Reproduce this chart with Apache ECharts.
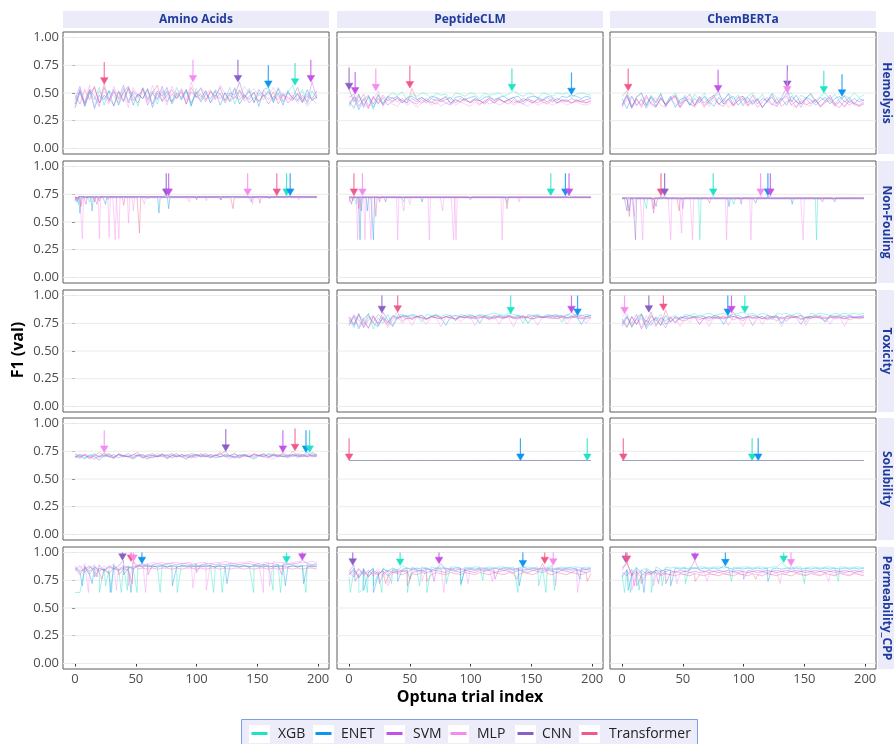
<!DOCTYPE html>
<html><head><meta charset="utf-8">
<script src="https://cdn.jsdelivr.net/npm/echarts@6/dist/echarts.min.js"></script>
<style>html,body{margin:0;padding:0;background:#fff}#c{width:894px;height:744px}</style>
</head><body><div id="c"></div><script>
const MODELS=['XGB','ENET','SVM','MLP','CNN','Transformer'];
const COLORS=['#20e3c6','#0d95f0','#c452ea','#f48cf0','#8b5fc7','#f0598b'];
const DATASETS=['Amino Acids','PeptideCLM','ChemBERTa'];
const TASKS=['Hemolysis','Non-Fouling','Toxicity','Solubility','Permeability_CPP'];
const Y_TICKS=[0,0.25,0.5,0.75,1];
const Y_TICK_LABELS=['0.00','0.25','0.50','0.75','1.00'];
const X_TICKS=[0,50,100,150,200];
const X_TICK_LABELS=['0','50','100','150','200'];
const N_TRIALS=200;

// ---- F1 values (x100), evenly spaced samples over trials 0..199 ----
const HEM_AA={
XGB:[40,53,38,51,44,55,39,52,47,41,54,43,50,38,55,45,52,40,53,47,42,55,44,51,39,54,46,52,41,53,48,43,55,40,52,46,54,42,50,44,53,41,55,47,51,57,43,53,40,52,45],
ENET:[37,50,41,53,36,48,44,52,38,51,42,54,39,49,45,53,37,50,43,52,40,48,44,53,38,51,42,49,45,52,39,50,43,54,40,48,44,51,38,53,55,42,50,39,52,44,49,41,53,43,48],
SVM:[44,56,40,53,47,38,55,42,51,45,57,41,52,46,54,39,50,44,56,42,49,45,53,40,51,47,44,52,41,48,45,50,42,47,44,49,41,46,43,48,40,47,44,49,41,46,43,48,42,60,45],
MLP:[36,54,42,57,38,52,46,40,56,44,50,37,55,47,53,42,57,45,51,39,56,48,54,43,60,46,55,49,53,45,57,50,48,55,46,56,50,54,47,52,48,55,46,50,44,48,41,46,38,44,40],
CNN:[40,52,38,50,55,41,48,44,53,39,51,56,43,49,45,54,40,52,47,55,42,50,46,53,41,49,54,44,51,47,55,43,50,48,60,45,52,41,53,47,51,44,54,42,50,46,55,43,49,45,52],
Transformer:[48,40,53,44,56,41,58,45,39,52,43,55,47,41,54,44,50,57,42,48,53,45,51,40,55,46,49,42,52,44,50,41,48,45,53,43,47,50,42,49,44,51,40,48,46,43,50,42,47,44,46]};
const HEM_PC={
XGB:[42,36,48,39,46,35,49,41,47,50,48,51,43,49,47,50,49,45,50,48,49,44,50,49,47,50,49,45,50,48,49,50,47,49,52,49,47,50,49,45,50,49,47,50,49,50,46,49,50,49,48],
ENET:[38,46,35,44,48,37,45,40,47,45,47,41,46,47,44,46,43,47,46,44,47,40,46,47,44,46,47,43,46,47,44,46,47,44,46,47,42,46,47,46,44,47,46,43,47,46,48,47,45,47,46],
SVM:[46,49,38,45,36,47,40,46,39,43,45,41,45,42,40,44,41,45,43,44,41,39,44,42,45,41,44,43,40,44,41,45,42,44,41,43,40,44,43,41,44,42,45,41,44,43,41,44,42,41,43],
MLP:[43,37,47,40,36,45,52,38,44,40,38,44,39,42,37,41,43,39,42,38,41,43,39,42,40,38,42,39,43,40,42,39,41,43,39,42,40,38,42,39,41,42,39,41,42,39,41,42,40,39,41],
CNN:[53,42,49,37,47,40,48,39,46,42,46,43,41,45,42,46,43,41,45,42,44,46,41,45,43,42,45,43,41,46,43,45,42,44,46,42,45,43,41,45,43,46,42,45,43,42,45,43,42,44,45],
Transformer:[40,47,42,49,38,46,41,48,43,46,42,45,41,54,44,41,45,42,40,44,46,41,44,42,45,41,44,40,43,45,41,44,42,40,44,41,43,45,41,44,42,40,44,41,43,44,41,43,44,41,43]};
const HEM_CB={
XGB:[40,49,37,47,50,39,48,42,50,38,46,50,41,48,39,49,44,50,40,47,49,42,50,44,48,39,47,50,43,49,41,50,46,44,49,50,42,48,45,50,43,47,50,44,49,42,48,45,50,46,48],
ENET:[45,36,47,39,44,37,46,38,45,40,47,37,44,46,39,45,41,47,42,38,46,40,45,47,39,44,46,40,45,37,43,46,40,45,39,47,42,40,46,44,39,43,46,40,45,47,42,46,40,45,43],
SVM:[38,47,36,44,39,48,40,37,46,39,43,47,37,44,40,38,46,39,43,48,51,40,45,38,43,47,39,44,37,42,46,40,38,44,47,39,43,37,45,40,44,38,43,46,39,42,38,44,40,39,42],
MLP:[37,44,47,38,45,36,42,46,39,37,45,40,38,47,41,37,43,46,38,44,39,45,37,42,46,38,44,39,45,37,42,47,38,43,50,39,37,45,40,38,44,37,41,45,38,42,37,43,39,38,41],
CNN:[39,48,37,46,50,39,47,41,49,38,45,48,40,44,49,39,47,41,45,48,40,44,49,39,46,47,41,48,40,45,43,49,41,46,55,42,48,40,45,49,41,46,43,48,40,45,47,41,45,42,44],
Transformer:[47,52,38,45,37,46,41,38,45,40,44,47,37,43,45,39,44,37,43,46,40,38,44,39,43,45,38,42,44,37,43,39,45,38,42,44,37,43,39,42,44,38,42,43,39,37,43,39,42,38,40]};

// Non-Fouling: nearly flat level with listed single-trial deviations [trial, F1x100]
const NF_AA_LEVEL={XGB:72.5,ENET:72,SVM:73,MLP:72.5,CNN:73,Transformer:72};
const NF_AA_PTS={
XGB:[[0,70],[3,66],[12,68],[27,70],[60,71],[174,74]],
ENET:[[0,69],[4,58],[14,60],[25,66],[69,58],[77,62],[120,70],[177,74]],
SVM:[[2,68],[9,66],[20,69],[77,74],[120,70],[145,68]],
MLP:[[1,68],[6,35],[20,35],[28,36],[33,34],[36,35],[44,49],[48,60],[57,66],[94,68],[108,69],[142,74],[146,66],[184,70]],
CNN:[[2,70],[16,68],[75,74],[100,70],[160,71]],
Transformer:[[5,64],[18,66],[40,65],[53,40],[130,62],[152,67],[166,74]]};
const NF_PC_LEVEL={XGB:72.5,ENET:72,SVM:73,MLP:72.5,CNN:72,Transformer:72};
const NF_PC_PTS={
XGB:[[6,66],[45,68],[130,67],[166,74]],
ENET:[[9,34],[15,60],[20,34],[60,68],[178,74]],
SVM:[[3,69],[25,68],[100,70],[181,74]],
MLP:[[7,34],[11,74],[13,34],[18,34],[40,34],[45,60],[50,66],[66,34],[77,60],[86,34],[88,34],[126,34],[140,68]],
CNN:[[2,66],[10,60],[30,68]],
Transformer:[[0,68],[4,74],[8,62],[22,55],[130,62]]};
const NF_CB_LEVEL={XGB:71.5,ENET:71,SVM:72,MLP:71.5,CNN:71,Transformer:71.5};
const NF_CB_PTS={
XGB:[[20,62],[64,34],[75,74],[92,66],[160,34]],
ENET:[[6,60],[88,64],[120,74],[140,66]],
SVM:[[26,58],[50,62],[98,66],[122,74],[175,68]],
MLP:[[10,55],[17,34],[40,34],[49,40],[58,34],[86,34],[106,34],[114,74],[149,34]],
CNN:[[4,60],[11,34],[28,64],[35,74],[110,67]],
Transformer:[[6,55],[26,62],[32,74],[47,60],[72,67],[165,68]]};

const TOX_PC={
XGB:[78,71,82,74,84,70,80,75,83,73,82,83,81,83,82,76,83,82,83,81,83,82,77,83,82,83,81,83,82,83,84,83,82,84,83,82,75,83,82,83,81,83,82,83,76,83,82,83,82,83,82],
ENET:[73,81,70,79,83,75,72,81,76,82,80,82,81,82,81,82,79,81,82,80,73,81,82,81,80,82,81,75,82,81,80,82,81,82,80,81,82,75,81,82,80,81,82,81,82,80,81,82,74,81,82],
SVM:[81,74,84,71,78,82,73,80,75,81,79,81,82,78,81,82,79,81,82,80,81,82,78,81,82,80,81,82,81,78,82,81,80,82,81,82,80,81,82,81,80,82,81,82,81,82,85,81,82,81,82],
MLP:[76,83,72,80,70,81,74,79,71,78,81,75,80,73,81,79,74,81,80,72,81,79,82,76,80,81,73,80,81,79,82,74,81,80,72,81,79,82,80,73,81,80,82,79,81,74,80,82,81,75,80],
CNN:[80,73,83,77,71,81,75,85,78,72,80,81,79,80,81,80,79,81,80,79,81,80,79,81,80,81,79,80,81,80,79,81,80,81,79,80,81,80,79,81,80,81,80,79,81,80,81,80,79,81,80],
Transformer:[74,82,78,72,81,76,83,79,73,80,85,77,80,79,81,80,78,81,80,79,81,80,79,80,81,79,80,81,80,79,81,80,79,81,80,79,81,80,79,80,81,80,79,81,80,79,80,81,80,79,80]};
const TOX_CB={
XGB:[76,82,71,80,84,73,81,77,83,74,80,82,78,83,82,84,80,83,84,82,83,84,81,83,84,85,83,84,82,84,83,78,84,83,84,82,84,83,76,84,83,84,83,82,84,83,84,83,84,83,84],
ENET:[79,72,81,74,83,70,77,80,73,82,76,81,79,81,82,80,82,81,79,82,81,74,82,81,82,80,81,82,81,79,82,81,82,75,81,82,81,82,80,81,82,81,76,82,81,82,81,82,80,81,82],
SVM:[72,80,75,83,70,78,73,81,77,71,80,75,81,79,80,81,74,80,81,79,80,81,80,85,79,80,81,73,80,81,79,80,81,80,77,81,80,74,81,80,81,79,80,81,80,81,79,80,81,80,81],
MLP:[81,84,73,79,71,82,76,72,80,74,77,81,72,80,76,81,74,80,72,81,79,82,73,81,80,72,82,80,81,74,82,80,81,72,82,81,80,82,73,81,80,82,81,74,82,81,72,82,81,80,81],
CNN:[74,81,72,79,83,76,85,73,80,77,81,76,80,81,79,81,80,79,81,80,81,79,80,81,80,79,81,80,81,79,80,81,80,79,81,80,81,79,80,81,80,81,79,80,81,80,79,81,80,81,80],
Transformer:[77,71,81,74,80,72,82,78,73,87,76,80,78,77,80,81,78,80,77,81,79,80,81,78,80,77,81,79,80,81,78,80,77,81,79,80,81,78,80,79,81,80,77,81,79,80,81,78,80,79,80]};

const SOL_AA={
XGB:[70,72,69,71,73,70,72,71,69,72,71,73,70,72,71,70,72,71,73,70,71,72,70,71,73,72,70,71,72,71,70,72,71,73,70,72,71,70,72,71,73,72,71,70,72,71,73,72,71,74,72],
ENET:[69,71,68,72,70,67,71,70,72,69,71,70,68,71,72,70,69,71,70,72,69,71,70,68,71,72,70,71,69,72,70,71,70,69,71,72,70,68,71,70,72,71,70,71,69,72,70,71,74,70,71],
SVM:[71,69,72,70,68,71,73,70,69,72,70,71,69,72,70,68,71,70,72,69,71,70,72,70,69,71,72,70,71,69,70,72,71,70,69,71,70,72,71,70,69,72,70,74,71,70,72,71,70,71,70],
MLP:[72,68,73,70,71,69,74,71,68,72,70,73,69,71,72,68,70,73,71,69,72,70,71,68,73,71,70,72,69,71,73,70,68,72,71,70,73,69,71,72,70,68,71,73,70,72,69,71,70,72,71],
CNN:[70,72,71,69,72,70,71,73,70,72,71,70,72,71,69,72,71,70,72,71,73,70,72,71,70,72,71,73,70,71,72,75,71,70,72,71,70,72,71,73,70,71,72,70,71,72,71,70,72,71,72],
Transformer:[73,70,72,68,71,74,70,72,69,73,71,70,72,74,69,71,73,70,72,68,71,73,70,72,71,69,73,70,72,71,74,70,71,73,69,72,70,73,71,72,70,73,71,72,70,75,71,72,70,73,71]};
const SOL_PC_LEVEL={XGB:66.7,ENET:66.7,Transformer:66.7};
const SOL_CB_LEVEL={XGB:66.7,ENET:66.7,Transformer:66.7};

const PERM_AA={
XGB:[64,64,86,80,88,83,86,84,89,85,87,88,86,88,87,89,88,87,88,89,88,88,89,88,88,89,88,89,88,88,89,88,89,88,89,88,88,89,88,89,88,88,89,88,90,89,88,88,89,88,89],
ENET:[86,82,88,80,87,84,85,82,88,84,86,87,85,88,90,87,88,87,88,87,88,87,88,87,88,87,88,87,88,87,88,87,88,88,87,88,87,88,87,88,87,88,87,88,87,88,87,88,87,88,87],
SVM:[84,88,82,87,85,89,83,88,86,84,88,87,85,89,88,90,89,90,89,90,90,89,90,90,89,90,89,90,90,89,90,89,90,90,89,90,90,89,90,89,90,90,89,90,89,90,90,93,90,89,90],
MLP:[88,84,90,86,89,83,88,85,90,86,87,84,92,88,90,89,91,90,91,90,91,91,90,91,91,90,91,91,90,91,91,92,91,90,91,91,92,91,90,91,91,92,91,91,90,91,92,91,91,92,91],
CNN:[87,83,85,88,82,86,84,87,85,88,93,86,87,88,87,88,87,88,88,87,88,87,88,88,87,88,87,88,88,87,88,87,88,88,87,88,87,88,88,87,88,87,88,88,87,88,87,88,88,87,88],
Transformer:[85,80,87,83,86,82,84,81,86,83,85,84,92,85,86,85,86,85,86,86,85,86,85,86,86,85,86,85,86,86,85,86,85,86,86,85,86,85,86,86,85,86,85,86,86,85,86,85,86,86,85]};
const PERM_AA_DIPS={
XGB:[[20,64],[25,70],[30,64],[38,64],[43,66],[51,64],[70,64],[84,64],[114,64],[121,64],[147,64],[163,66],[169,64],[190,64]],
ENET:[[6,70],[14,72],[29,64],[46,64],[80,70],[125,72],[173,70],[188,72]],
SVM:[[18,78],[60,80],[100,82],[170,80]],
MLP:[[11,64],[34,66],[44,70],[58,64],[97,68],[108,66],[155,64],[160,70]],
CNN:[[16,78],[40,80]],
Transformer:[[22,76],[36,80],[47,72]]};
const PERM_PC={
XGB:[78,84,80,86,82,85,81,86,83,85,84,88,86,87,85,87,86,87,86,87,86,87,87,86,87,86,87,87,86,87,86,87,87,86,87,86,87,87,86,87,86,87,87,86,87,86,87,87,86,87,86],
ENET:[80,86,77,84,82,86,79,85,83,86,84,85,86,85,86,85,86,84,86,85,86,85,86,86,85,86,85,86,86,85,86,85,86,86,85,86,87,85,86,85,86,86,85,86,85,86,86,85,86,85,86],
SVM:[82,78,85,80,84,79,83,81,84,82,83,84,82,85,84,83,85,84,85,90,84,85,84,85,84,85,84,85,84,85,84,85,84,85,84,85,84,85,84,85,84,85,84,85,84,85,84,85,84,85,84],
MLP:[84,80,86,79,83,81,85,78,84,82,85,83,86,84,85,83,86,85,84,86,85,86,84,85,86,85,84,86,85,84,86,85,86,84,85,86,85,84,86,85,86,84,89,85,86,84,85,86,85,84,85],
CNN:[83,89,80,85,78,84,81,83,79,84,82,83,84,82,83,84,82,83,84,83,82,84,83,82,84,83,82,84,83,84,82,83,84,83,82,84,83,82,84,83,82,84,83,82,84,83,82,84,83,82,83],
Transformer:[80,84,78,83,79,82,80,84,78,82,81,80,82,81,80,82,81,80,82,81,80,82,81,80,82,81,80,82,81,80,82,81,80,82,81,80,82,81,80,82,90,81,80,82,81,80,82,81,80,82,81]};
const PERM_PC_DIPS={
XGB:[[1,64],[8,64],[11,66],[15,64],[20,70],[27,64],[35,72],[48,64],[58,70],[64,64],[80,72],[92,70],[110,75],[139,64],[156,70],[162,64],[169,66]],
ENET:[[12,66],[20,64],[40,74],[92,72],[140,70],[190,76]],
SVM:[[25,72],[70,74],[120,76]],
MLP:[[32,70],[60,74],[78,64],[98,72],[118,74],[170,70],[188,64]],
CNN:[[5,74],[50,76]],
Transformer:[[30,72],[48,70],[64,74],[138,76],[196,74]]};
const PERM_CB={
XGB:[80,85,82,87,84,86,83,87,85,87,86,87,86,87,87,86,87,87,86,87,87,86,87,87,86,87,87,86,87,87,86,87,87,91,87,86,87,87,86,87,87,86,87,87,86,87,87,86,87,87,86],
ENET:[78,84,80,86,82,85,81,84,83,85,84,86,85,86,85,86,85,86,85,86,85,88,86,85,86,85,86,85,86,85,86,85,86,85,86,85,86,85,86,85,86,85,86,85,86,85,86,85,86,85,86],
SVM:[82,79,85,80,84,81,83,82,84,83,84,82,84,83,84,93,84,83,84,83,84,83,84,83,84,83,84,83,84,83,84,83,84,83,84,83,84,83,84,83,84,83,84,83,84,83,84,83,84,83,84],
MLP:[80,84,78,83,81,79,83,80,82,81,80,82,81,80,82,81,80,82,81,80,82,81,80,82,81,80,82,81,80,82,81,80,82,81,80,88,82,81,80,82,81,80,82,81,80,82,81,80,82,81,80],
CNN:[86,91,80,84,79,83,81,84,80,83,82,83,82,83,82,83,82,83,82,83,82,83,82,83,82,83,82,83,82,83,82,83,82,83,82,83,82,83,82,83,82,83,82,83,82,83,82,83,82,83,82],
Transformer:[84,91,79,82,78,81,80,82,79,81,80,79,81,80,79,81,80,79,81,80,79,81,80,79,81,80,79,81,80,79,81,80,79,81,80,79,81,80,79,81,80,79,81,80,79,81,80,79,81,80,79]};
const PERM_CB_DIPS={
XGB:[[2,64],[7,64],[14,66],[24,64],[33,70],[52,72],[90,74],[150,72],[178,74]],
ENET:[[5,66],[18,64],[40,70],[120,74]],
SVM:[[10,70],[30,72],[100,76]],
MLP:[[8,66],[26,70],[45,72],[70,74],[130,72],[170,74]],
CNN:[[12,70],[36,72]],
Transformer:[[16,72],[60,74],[110,76]]};

// ---- best-trial arrows: [model, trial, best F1] ----
const ARR_HEM_AA=[['Transformer',24,0.58],['MLP',97,0.60],['CNN',134,0.60],['ENET',159,0.55],['XGB',181,0.57],['SVM',194,0.60]];
const ARR_HEM_PC=[['CNN',0,0.53],['SVM',5,0.49],['MLP',22,0.52],['Transformer',50,0.545],['XGB',134,0.52],['ENET',183,0.485]];
const ARR_HEM_CB=[['Transformer',5,0.52],['SVM',79,0.51],['CNN',136,0.55],['MLP',136,0.50],['XGB',166,0.50],['ENET',181,0.47]];
const ARR_NF_AA=[['CNN',75,0.74],['SVM',77,0.74],['MLP',142,0.74],['Transformer',166,0.74],['XGB',174,0.74],['ENET',177,0.74]];
const ARR_NF_PC=[['Transformer',4,0.74],['MLP',11,0.74],['XGB',166,0.74],['ENET',178,0.74],['SVM',181,0.74]];
const ARR_NF_CB=[['Transformer',32,0.74],['CNN',35,0.74],['XGB',75,0.74],['MLP',114,0.74],['ENET',120,0.74],['SVM',122,0.74]];
const ARR_TOX_PC=[['CNN',27,0.845],['Transformer',40,0.85],['XGB',133,0.835],['SVM',183,0.845],['ENET',188,0.82]];
const ARR_TOX_CB=[['MLP',2,0.835],['CNN',22,0.85],['Transformer',34,0.865],['ENET',87,0.82],['SVM',90,0.845],['XGB',101,0.845]];
const ARR_SOL_AA=[['MLP',24,0.74],['CNN',124,0.75],['SVM',171,0.74],['Transformer',181,0.755],['ENET',190,0.74],['XGB',193,0.74]];
const ARR_SOL_PC=[['Transformer',0,0.667],['ENET',141,0.667],['XGB',196,0.667]];
const ARR_SOL_CB=[['Transformer',1,0.667],['XGB',107,0.667],['ENET',112,0.667]];
const ARR_PERM_AA=[['CNN',39,0.93],['Transformer',46,0.92],['MLP',48,0.92],['ENET',55,0.90],['XGB',174,0.905],['SVM',187,0.93]];
const ARR_PERM_PC=[['CNN',3,0.886],['XGB',42,0.883],['SVM',74,0.90],['ENET',143,0.87],['Transformer',161,0.90],['MLP',168,0.886]];
const ARR_PERM_CB=[['CNN',3,0.91],['Transformer',4,0.91],['SVM',60,0.93],['ENET',85,0.88],['XGB',133,0.91],['MLP',139,0.88]];

const PANELS=[
 {r:0,c:0,samples:HEM_AA,arrows:ARR_HEM_AA},
 {r:0,c:1,samples:HEM_PC,arrows:ARR_HEM_PC},
 {r:0,c:2,samples:HEM_CB,arrows:ARR_HEM_CB},
 {r:1,c:0,level:NF_AA_LEVEL,pts:NF_AA_PTS,arrows:ARR_NF_AA},
 {r:1,c:1,level:NF_PC_LEVEL,pts:NF_PC_PTS,arrows:ARR_NF_PC},
 {r:1,c:2,level:NF_CB_LEVEL,pts:NF_CB_PTS,arrows:ARR_NF_CB},
 {r:2,c:0,arrows:[]},
 {r:2,c:1,samples:TOX_PC,arrows:ARR_TOX_PC},
 {r:2,c:2,samples:TOX_CB,arrows:ARR_TOX_CB},
 {r:3,c:0,samples:SOL_AA,arrows:ARR_SOL_AA},
 {r:3,c:1,level:SOL_PC_LEVEL,pts:{},arrows:ARR_SOL_PC},
 {r:3,c:2,level:SOL_CB_LEVEL,pts:{},arrows:ARR_SOL_CB},
 {r:4,c:0,samples:PERM_AA,dips:PERM_AA_DIPS,arrows:ARR_PERM_AA},
 {r:4,c:1,samples:PERM_PC,dips:PERM_PC_DIPS,arrows:ARR_PERM_PC},
 {r:4,c:2,samples:PERM_CB,dips:PERM_CB_DIPS,arrows:ARR_PERM_CB}
];

// ---- layout ----
const LEFTS=[63,337,610], TOPS=[32,161,290,418,547], PW=266, PH=122;
const FONT='"Open Sans", "DejaVu Sans", sans-serif';

function buildLine(p,m){
  if(p.samples){
    const v=p.samples[m]; if(!v) return null;
    const n=v.length;
    const pts=v.map((y,i)=>[i*(N_TRIALS-1)/(n-1), y/100]);
    ((p.dips&&p.dips[m])||[]).forEach(d=>pts.push([d[0], d[1]/100]));
    pts.sort((a,b)=>a[0]-b[0]);
    return pts;
  }
  if(p.level){
    const L=p.level[m]; if(L===undefined) return null;
    const ex={}; ((p.pts&&p.pts[m])||[]).forEach(d=>{ex[d[0]]=d[1];});
    const pts=[];
    for(let t=0;t<N_TRIALS;t++) pts.push([t,(ex[t]!==undefined?ex[t]:L)/100]);
    return pts;
  }
  return null;
}

function gridRender(params,api){
  const cs=params.coordSys;
  const y=api.coord([0,api.value(1)])[1];
  return {type:'line',shape:{x1:cs.x,y1:y,x2:cs.x+cs.width,y2:y},style:{stroke:'#ebebeb',lineWidth:1}};
}
function arrowRender(params,api){
  const t=api.value(0), v=api.value(1), m=api.value(2);
  const tip=api.coord([t,v]);
  const top=api.coord([t,Math.min(v+0.2,1.0)]);
  const col=COLORS[m];
  const x=tip[0], y=tip[1];
  return {type:'group',children:[
    {type:'line',shape:{x1:x,y1:top[1],x2:x,y2:y-5},style:{stroke:col,lineWidth:1.2,opacity:0.8}},
    {type:'polygon',shape:{points:[[x-3.8,y-6.5],[x+3.8,y-6.5],[x,y]]},style:{fill:col,stroke:col,lineWidth:0.5}}
  ]};
}

const grids=[],xAxes=[],yAxes=[],series=[],graphics=[];
PANELS.forEach((p,k)=>{
  grids.push({left:LEFTS[p.c],top:TOPS[p.r],width:PW,height:PH,show:true,
    borderColor:'#5c5c5c',borderWidth:1,backgroundColor:'#fff'});
  xAxes.push({gridIndex:k,type:'value',min:-9.95,max:208.95,
    axisLine:{show:false},splitLine:{show:false},
    axisTick:{show:p.r===4,customValues:X_TICKS,length:3,lineStyle:{color:'#333'}},
    axisLabel:{show:p.r===4,customValues:X_TICKS,color:'#4d4d4d',fontSize:13,fontFamily:FONT,margin:4,
      formatter:v=>X_TICK_LABELS[X_TICKS.indexOf(v)]}});
  yAxes.push({gridIndex:k,type:'value',min:-0.05,max:1.05,
    axisLine:{show:false},splitLine:{show:false},
    axisTick:{show:p.c===0,customValues:Y_TICKS,length:3,lineStyle:{color:'#333'}},
    axisLabel:{show:p.c===0,customValues:Y_TICKS,color:'#4d4d4d',fontSize:13,fontFamily:FONT,margin:4,
      formatter:v=>Y_TICK_LABELS[Y_TICKS.indexOf(v)]}});
  series.push({type:'custom',xAxisIndex:k,yAxisIndex:k,silent:true,z:1,
    data:Y_TICKS.map(v=>[0,v]),encode:{x:0,y:1},renderItem:gridRender});
  MODELS.forEach((m,mi)=>{
    const d=buildLine(p,m); if(!d) return;
    series.push({type:'line',name:m,xAxisIndex:k,yAxisIndex:k,data:d,showSymbol:false,symbol:'none',
      silent:true,z:2,lineStyle:{color:COLORS[mi],width:0.8,opacity:0.5}});
  });
  if(p.arrows.length){
    series.push({type:'custom',xAxisIndex:k,yAxisIndex:k,silent:true,z:5,
      data:p.arrows.map(a=>[a[1],a[2],MODELS.indexOf(a[0])]),encode:{x:0,y:1},renderItem:arrowRender});
  }
});

// strips
DATASETS.forEach((d,c)=>{
  graphics.push({type:'rect',shape:{x:LEFTS[c],y:11,width:PW,height:17},style:{fill:'#ebebfa'},silent:true});
  graphics.push({type:'text',x:LEFTS[c]+PW/2,y:19.5,silent:true,
    style:{text:d,fill:'#1f3b9c',font:'bold 12px '+FONT,align:'center',verticalAlign:'middle'}});
});
TASKS.forEach((t,r)=>{
  graphics.push({type:'rect',shape:{x:878,y:TOPS[r],width:16,height:PH},style:{fill:'#ebebfa'},silent:true});
  graphics.push({type:'text',x:886,y:TOPS[r]+PH/2,rotation:-Math.PI/2,silent:true,
    style:{text:t,fill:'#1f3b9c',font:'bold 12px '+FONT,align:'center',verticalAlign:'middle'}});
});
// axis titles
graphics.push({type:'text',x:18,y:350,rotation:Math.PI/2,silent:true,
  style:{text:'F1 (val)',fill:'#000',font:'bold 16px '+FONT,align:'center',verticalAlign:'middle'}});
graphics.push({type:'text',x:470,y:697,silent:true,
  style:{text:'Optuna trial index',fill:'#000',font:'bold 16px '+FONT,align:'center',verticalAlign:'middle'}});
// legend
graphics.push({type:'rect',shape:{x:241.5,y:719.5,width:456,height:32},style:{fill:'#ececfa',stroke:'#7f9de6',lineWidth:1},silent:true});
const KEY_X=[249,313,384,448,515,579], TXT_X=[278,341,413,477,542,609];
MODELS.forEach((m,i)=>{
  graphics.push({type:'rect',shape:{x:KEY_X[i],y:725,width:21,height:18},style:{fill:'#fff'},silent:true});
  graphics.push({type:'line',shape:{x1:KEY_X[i]+2.5,y1:733.5,x2:KEY_X[i]+18.5,y2:733.5},style:{stroke:COLORS[i],lineWidth:3},silent:true});
  graphics.push({type:'text',x:TXT_X[i],y:734,silent:true,
    style:{text:m,fill:'#222',font:'14px '+FONT,align:'left',verticalAlign:'middle'}});
});

const chart=echarts.init(document.getElementById('c'),null,{renderer:'canvas'});
chart.setOption({animation:false,backgroundColor:'#fff',textStyle:{fontFamily:FONT},
  grid:grids,xAxis:xAxes,yAxis:yAxes,series:series,graphic:graphics});
</script></body></html>
